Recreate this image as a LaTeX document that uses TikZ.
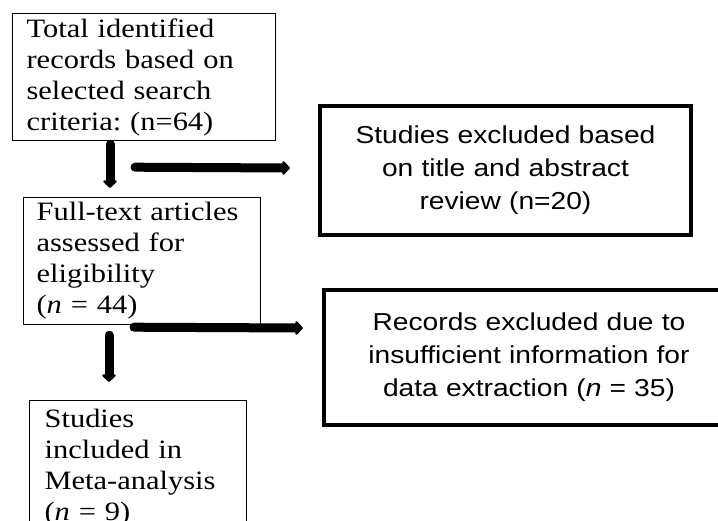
\documentclass[tikz,border=0pt]{standalone}
\usepackage{fontspec}
\setmainfont{Liberation Serif}[FakeStretch=1.15]
\setsansfont{Liberation Sans}[FakeStretch=1.15]
\usepackage{tikz}
\usetikzlibrary{arrows.meta}
\frenchspacing

\begin{document}
\begin{tikzpicture}[x=1pt,y=-1pt,
   thinbox/.style={draw,line width=1.2pt,anchor=north west,align=left,
      font=\fontsize{26.5}{31}\selectfont},
   thickbox/.style={draw,line width=4pt,anchor=north west,align=center,
      font=\sffamily\fontsize{24.5}{33}\selectfont},
   flowarrow/.style={line width=9pt,line cap=round,-{Triangle[width=16pt,length=8pt,round]}}]
   \useasboundingbox (0,0) rectangle (718,520);
   \clip (0,0) rectangle (718,520);
   \node[thinbox,minimum width=263pt,minimum height=127pt,inner xsep=14pt,text width=235pt]
      (total) at (12,13) {Total identified\\records based on\\selected search\\criteria: (n=64)};
   \node[thickbox,minimum width=371pt,minimum height=129pt,inner xsep=15pt,text width=341pt]
      (excltitle) at (318,104) {Studies excluded based\\on title and abstract\\review (n=20)};
   \node[thinbox,minimum width=237pt,minimum height=127pt,inner xsep=13pt,text width=211pt]
      (fulltext) at (23,197) {Full-text articles\\assessed for\\eligibility\\(\textit{n} = 44)};
   \node[thickbox,minimum width=410pt,minimum height=135pt,inner xsep=15pt,text width=380pt]
      (exclinfo) at (322,288) {Records excluded due to\\insufficient information for\\data extraction (\textit{n} = 35)};
   \node[thinbox,minimum width=217pt,inner xsep=15pt,inner ysep=9pt,text width=187pt]
      (included) at (29,400) {Studies\\included in\\Meta-analysis\\(\textit{n} = 9)};
   \draw[flowarrow] ([xshift=98pt,yshift=-3pt]total.south west) -- ([xshift=87pt,yshift=9pt]fulltext.north west);
   \draw[flowarrow] ([xshift=123pt,yshift=-26pt]total.south west) -- ([xshift=-28pt,yshift=2.5pt]excltitle.west);
   \draw[flowarrow] ([xshift=111pt,yshift=-2pt]fulltext.south west) -- ([xshift=-19pt,yshift=29.5pt]exclinfo.west);
   \draw[flowarrow] ([xshift=86pt,yshift=-10pt]fulltext.south west) -- ([xshift=80pt,yshift=18pt]included.north west);
\end{tikzpicture}
\end{document}
